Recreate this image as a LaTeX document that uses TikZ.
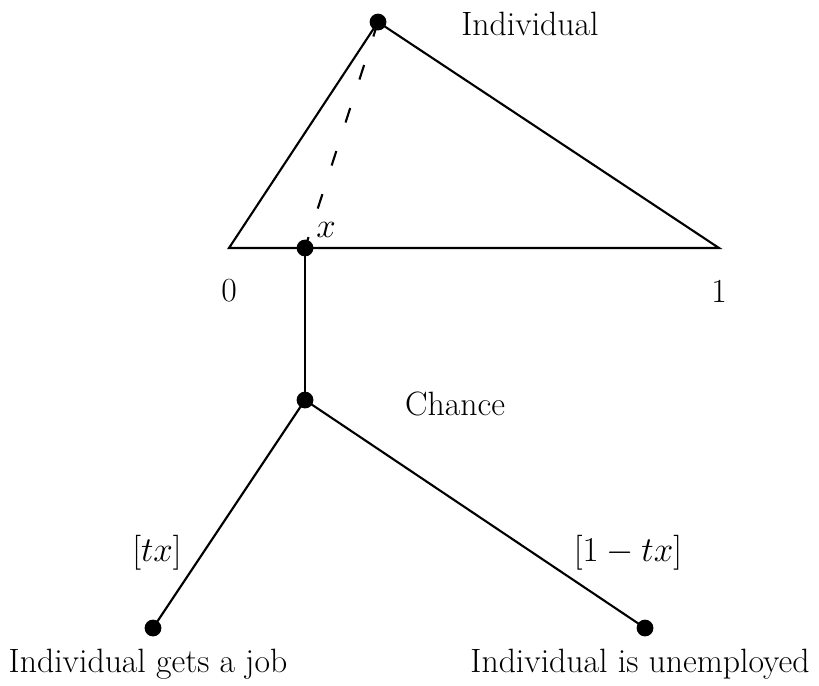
\documentclass[tikz,border=0pt]{standalone}
\begin{document}
\begin{tikzpicture}[x=0.025cm,y=-0.025cm,
  dot/.style={circle,fill=black,inner sep=0pt,minimum size=0.42cm},
  edge/.style={line width=1.5pt},
  lbl/.style={inner sep=0pt,font=\fontsize{24}{28}\selectfont}]
\useasboundingbox (0,0) rectangle (819,685);
\node[dot] (top) at (378,22) {};
\coordinate (zero) at (229,248);
\coordinate (one) at (719,248);
\node[dot] (x) at (305,248) {};
\node[dot] (chance) at (305,400) {};
\node[dot] (job) at (153,628) {};
\node[dot] (unemp) at (645,628) {};
\draw[edge] (top.center) -- (zero) -- (one) -- (top.center);
\draw[edge,dash pattern=on 0.38cm off 0.75cm] (top.center) -- (x.center);
\draw[edge] (x.center) -- (chance.center);
\draw[edge] (chance.center) -- (job.center);
\draw[edge] (chance.center) -- (unemp.center);
\node[lbl] (lind) at (530,24) {Individual};
\node[lbl] (l0) at (229,291) {0};
\node[lbl] (l1) at (719,291) {1};
\node[lbl] (lx) at (326,230) {$x$};
\node[lbl] (lch) at (455,404) {Chance};
\node[lbl] (ltx) at (157,553) {$[tx]$};
\node[lbl] (l1tx) at (628,553) {$[1-tx]$};
\node[lbl] (ljob) at (148,664) {Individual gets a job};
\node[lbl] (lun) at (640,664) {Individual is unemployed};
\end{tikzpicture}
\end{document}
